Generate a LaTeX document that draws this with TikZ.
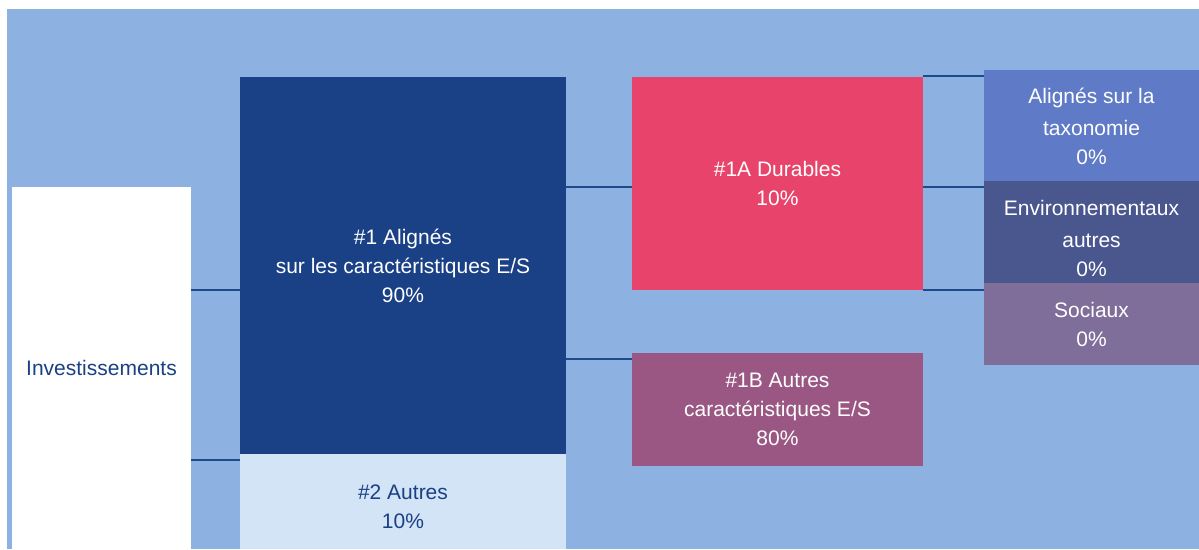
\documentclass[tikz,border=0pt]{standalone}
\usepackage{fontspec}
\setmainfont{Liberation Sans}
\usepackage{tikz}
\usetikzlibrary{positioning}

\definecolor{bgblue}{HTML}{8DB2E1}
\definecolor{navy}{HTML}{1A4086}
\definecolor{paleblue}{HTML}{D2E4F5}
\definecolor{rose}{HTML}{E8436A}
\definecolor{plum}{HTML}{9A5783}
\definecolor{taxblue}{HTML}{5F7AC6}
\definecolor{envblue}{HTML}{4A578F}
\definecolor{socmauve}{HTML}{7F6E9A}
\definecolor{linkblue}{HTML}{1F4A8A}

\newcommand{\lowered}[2]{\raisebox{#1}[\height][\depth]{\begin{tabular}{@{}c@{}}#2\end{tabular}}}

\tikzset{
  box/.style={anchor=north west,inner sep=0pt,outer sep=0pt,align=center,
    text=white,font=\fontsize{21}{29}\selectfont},
  link/.style={draw=linkblue,line width=2.5pt}
}

\begin{document}
\begin{tikzpicture}[x=1pt,y=-1pt]
    \useasboundingbox (0,0) rectangle (1199,549);
    \fill[bgblue] (7,9) rectangle (1199,549);
    \node[box,fill=white,text=navy,minimum width=179pt,minimum height=362pt] (inv) at (12,187) {Investissements};
    \node[box,fill=navy,minimum width=326pt,minimum height=377pt] (ali) at (240,77) {\#1 Alignés\\sur les caractéristiques E/S\\90\%};
    \node[box,fill=paleblue,text=navy,minimum width=326pt,minimum height=95pt] (aut) at (240,454) {\lowered{-7pt}{\#2 Autres\\10\%}};
    \node[box,fill=rose,minimum width=291pt,minimum height=213pt] (dur) at (632,77) {\#1A Durables\\10\%};
    \node[box,fill=plum,minimum width=291pt,minimum height=113pt] (oth) at (632,353) {\#1B Autres\\caractéristiques E/S\\80\%};
    \node[box,fill=taxblue,minimum width=215pt,minimum height=111pt] (tax) at (984,70) {\lowered{-3pt}{Alignés sur la\\[3pt]taxonomie\\0\%}};
    \node[box,fill=envblue,minimum width=215pt,minimum height=102pt] (env) at (984,181) {\lowered{-8pt}{Environnementaux\\[3pt]autres\\0\%}};
    \node[box,fill=socmauve,minimum width=215pt,minimum height=82pt] (soc) at (984,283) {Sociaux\\0\%};
    \coordinate (autin) at ([yshift=-6pt]aut.north west);
    \coordinate (othin) at ([yshift=-6pt]oth.north west);
    \coordinate (durin) at ([yshift=-3.5pt]dur.west);
    \coordinate (durtop) at ([yshift=1pt]dur.north east);
    \coordinate (durmid) at ([yshift=-3.5pt]dur.east);
    \path[link]
    (inv.east |- dur.south) edge (ali.west |- dur.south)
    (inv.east |- autin) edge (autin)
    (ali.east |- durin) edge (durin)
    (ali.east |- othin) edge (othin)
    (durtop) edge (tax.west |- durtop)
    (durmid) edge (tax.west |- durmid)
    (dur.south east) edge (soc.west |- dur.south east);
\end{tikzpicture}
\end{document}
